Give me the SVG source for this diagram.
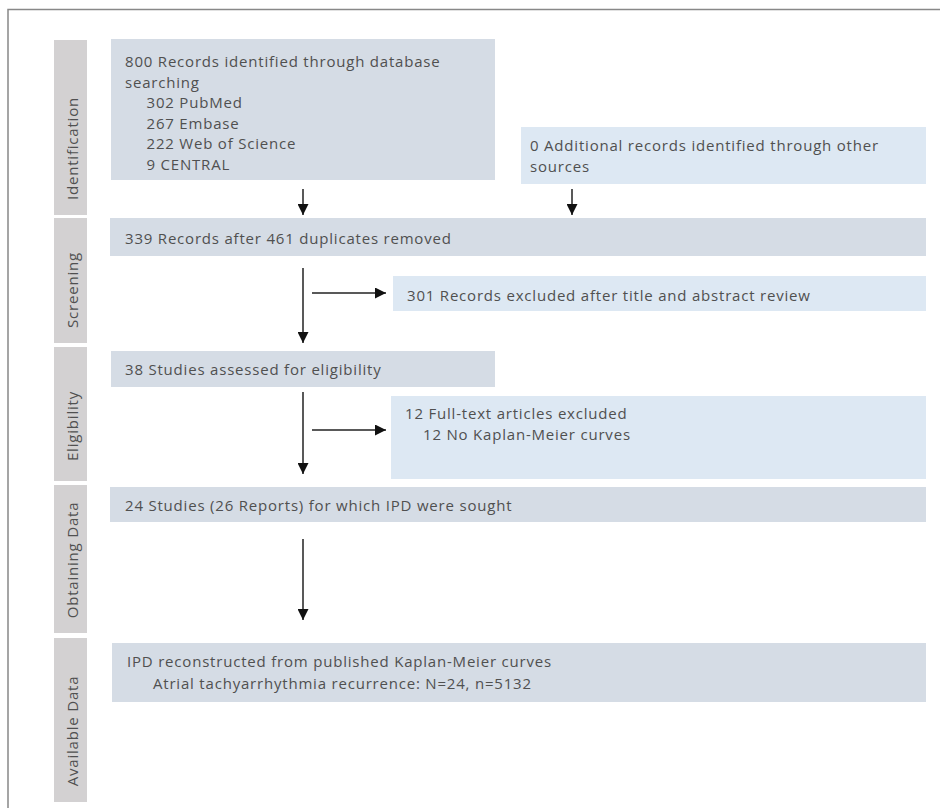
<svg xmlns="http://www.w3.org/2000/svg" width="940" height="808" viewBox="0 0 940 808">
<style>
.t{font-family:"Open Sans","Liberation Sans",sans-serif;font-size:15px;letter-spacing:0.8px;fill:#505050}
.ph{fill:#d3d1d2}
.main{fill:#d5dce5}
.side{fill:#dde8f3}
.c{stroke:#222;stroke-width:1.5;fill:none;marker-end:url(#ah)}
</style>
<defs>
<marker id="ah" markerUnits="userSpaceOnUse" markerWidth="11" markerHeight="11" refX="10" refY="5" orient="auto" viewBox="0 0 10 10">
<path d="M0,0 L10,5 L0,10 z" fill="#111"/>
</marker>
</defs>
<rect width="940" height="808" fill="#fff"/>
<path d="M8,808 V9.5 H940" fill="none" stroke="#888" stroke-width="1.5"/>

<g id="phase-identification"><rect class="ph" x="54" y="40" width="33" height="175"/><text class="t" transform="translate(78,148.5) rotate(-90)" text-anchor="middle">Identification</text></g>
<g id="phase-screening"><rect class="ph" x="54" y="218" width="33" height="125"/><text class="t" transform="translate(78,290) rotate(-90)" text-anchor="middle">Screening</text></g>
<g id="phase-eligibility"><rect class="ph" x="54" y="347" width="33" height="134"/><text class="t" transform="translate(78,426) rotate(-90)" text-anchor="middle">Eligibility</text></g>
<g id="phase-obtaining"><rect class="ph" x="54" y="485" width="33" height="148"/><text class="t" transform="translate(78,560) rotate(-90)" text-anchor="middle">Obtaining Data</text></g>
<g id="phase-available"><rect class="ph" x="54" y="638" width="33" height="164"/><text class="t" transform="translate(78,731) rotate(-90)" text-anchor="middle">Available Data</text></g>

<g id="n-database"><rect class="main" x="111" y="39" width="384" height="141"/>
<text class="t" x="125" y="67">800 Records identified through database</text>
<text class="t" x="125" y="87.5">searching</text>
<text class="t" x="146.5" y="108">302 PubMed</text>
<text class="t" x="146.5" y="128.5">267 Embase</text>
<text class="t" x="146.5" y="149">222 Web of Science</text>
<text class="t" x="146.5" y="169.5">9 CENTRAL</text></g>

<g id="n-other"><rect class="side" x="521" y="127" width="405" height="57"/>
<text class="t" x="530" y="150.5">0 Additional records identified through other</text>
<text class="t" x="530" y="172">sources</text></g>

<g id="n-dedup"><rect class="main" x="110" y="218" width="816" height="38"/>
<text class="t" x="125" y="243.5">339 Records after 461 duplicates removed</text></g>

<g id="n-excl1"><rect class="side" x="393" y="276" width="533" height="35"/>
<text class="t" x="407" y="301">301 Records excluded after title and abstract review</text></g>

<g id="n-assessed"><rect class="main" x="111" y="351" width="384" height="36"/>
<text class="t" x="125" y="375">38 Studies assessed for eligibility</text></g>

<g id="n-excl2"><rect class="side" x="391" y="396" width="535" height="83"/>
<text class="t" x="405" y="418.5">12 Full-text articles excluded</text>
<text class="t" x="423" y="440">12 No Kaplan-Meier curves</text></g>

<g id="n-sought"><rect class="main" x="110" y="487" width="816" height="35"/>
<text class="t" x="125" y="510.5">24 Studies (26 Reports) for which IPD were sought</text></g>

<g id="n-ipd"><rect class="main" x="112" y="643" width="814" height="59"/>
<text class="t" x="127" y="667">IPD reconstructed from published Kaplan-Meier curves</text>
<text class="t" x="153" y="689">Atrial tachyarrhythmia recurrence: N=24, n=5132</text></g>

<g id="connectors">
<path class="c" d="M303,189 V215"/>
<path class="c" d="M572,189 V215"/>
<path class="c" d="M303,268 V343"/>
<path class="c" d="M312,293 H386"/>
<path class="c" d="M303,392 V474"/>
<path class="c" d="M312,430 H386"/>
<path class="c" d="M303,539 V620"/>
</g>
</svg>
